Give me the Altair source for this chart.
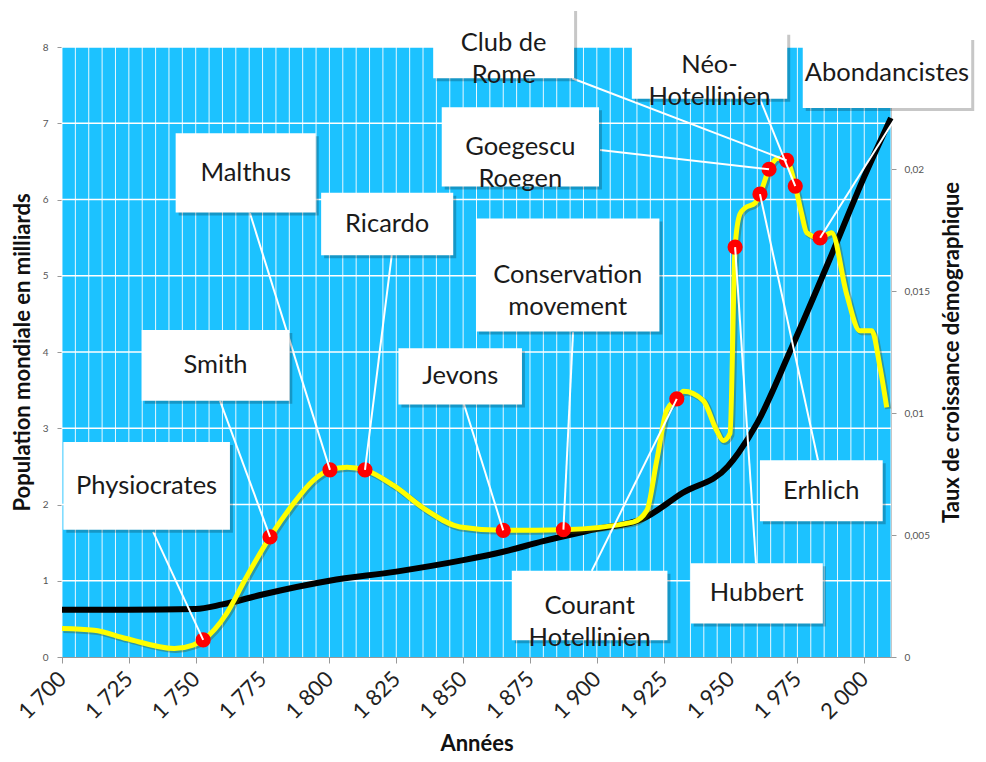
import altair as alt
import pandas as pd

# ---- data ----
pop_years = [1700, 1725, 1750, 1760, 1775, 1800, 1825, 1850, 1865, 1880, 1900, 1917,
             1932, 1949, 1953, 1960, 1972, 1987, 2000, 2010]
pop_values = [0.62, 0.62, 0.63, 0.69, 0.82, 1.00, 1.12, 1.27, 1.38, 1.52, 1.68, 1.81,
              2.15, 2.50, 2.68, 3.07, 3.99, 5.21, 6.30, 7.07]

rate_years = [1700, 1712, 1724, 1742, 1749, 1752.8, 1761.6, 1769, 1777.8, 1786.5, 1794,
              1800.2, 1806.5, 1813.3, 1824, 1836.4, 1848.8, 1865, 1887.5, 1913.5, 1918.7,
              1922.4, 1926.1, 1929.9, 1932.4, 1939.8, 1944.8, 1947.3, 1949.8, 1951.7,
              1953.5, 1955.4, 1959.2, 1961.0, 1964.4, 1967.8, 1971.0, 1974.2, 1976.6,
              1978.5, 1983.5, 1987.8, 1993.4, 1998.4, 2002.8, 2005.9, 2008.4]
rate_values = [0.00117, 0.00110, 0.00076, 0.00035, 0.00049, 0.00070, 0.00179, 0.00328,
               0.00492, 0.00628, 0.00724, 0.00767, 0.00778, 0.00767, 0.00703, 0.00601,
               0.00533, 0.00519, 0.00522, 0.00553, 0.00601, 0.00805, 0.01010, 0.01058,
               0.01089, 0.01051, 0.00928, 0.00887, 0.00916, 0.01680, 0.01815, 0.01840,
               0.01861, 0.01897, 0.01999, 0.02044, 0.02035, 0.01930, 0.01815, 0.01739,
               0.01718, 0.01739, 0.01488, 0.01337, 0.01337, 0.01187, 0.01023]

labels = ["Physiocrates", "Smith", "Malthus", "Ricardo", "Jevons",
          "Conservation\nmovement", "Courant\nHotellinien", "Hubbert", "Erhlich",
          "Goegescu\nRoegen", "Club de\nRome", "Néo-\nHotellinien", "Abondancistes"]
point_year = [1752.8, 1777.8, 1800.2, 1813.3, 1865.0, 1887.5, 1929.9, 1951.7, 1961.0,
              1964.4, 1971.0, 1974.2, 1983.5]
point_rate = [0.00070, 0.00492, 0.00767, 0.00767, 0.00519, 0.00522, 0.01058, 0.01680,
              0.01897, 0.01999, 0.02035, 0.01930, 0.01718]
# label boxes, in (year, billions) units
box_x0 = [1700.5, 1729.8, 1742.5, 1796.9, 1825.8, 1854.8, 1868.2, 1935.1, 1961.0,
          1842.0, 1838.8, 1913.1, 1977.0]
box_x1 = [1762.8, 1785.0, 1794.9, 1846.3, 1872.0, 1923.4, 1926.4, 1984.5, 2006.9,
          1900.8, 1891.5, 1971.2, 2040.0]
box_top = [2.82, 4.29, 6.87, 6.09, 4.05, 5.75, 1.13, 1.23, 2.58, 7.21, 8.51, 8.20, 8.13]
box_bottom = [1.67, 3.36, 5.83, 5.27, 3.31, 4.27, 0.22, 0.44, 1.78, 6.17, 7.59, 7.32, 7.20]
anchor_year = [1734.1, 1759.1, 1770.3, 1823.3, 1850.1, 1891.1, 1898.1, 1959.5, 1982.7,
               1901.2, 1890.7, 1961.0, 2014.0]
anchor_val = [1.64, 3.36, 5.82, 5.27, 3.34, 4.26, 1.13, 1.23, 2.58, 6.65, 7.59, 7.32, 7.20]

x_domain = [1700, 2010]
y_left_domain = [0, 8]
y_right_domain = [0, 0.025]
x_grid_values = list(range(1700, 2011, 5))
left_ticks = list(range(0, 9))
right_ticks = [0, 0.005, 0.01, 0.015, 0.02]

df_pop = pd.DataFrame({"year": pop_years, "pop": pop_values})
df_rate = pd.DataFrame({"year": rate_years, "rate": rate_values})
df_ann = pd.DataFrame({
    "label": labels, "point_year": point_year, "point_rate": point_rate,
    "x0": box_x0, "x1": box_x1, "top": box_top, "bottom": box_bottom,
    "anchor_year": anchor_year, "anchor_val": anchor_val,
})
df_bg = pd.DataFrame({"x0": [x_domain[0]], "x1": [x_domain[1]],
                      "y0": [y_left_domain[0]], "y1": [y_left_domain[1]]})
df_vgrid = pd.DataFrame({"gx": x_grid_values})
df_hgrid = pd.DataFrame({"gy": left_ticks[1:]})

FONT = "Lato"
xscale = alt.Scale(domain=x_domain, nice=False, zero=False)
yl_scale = alt.Scale(domain=y_left_domain, nice=False, zero=True)
yr_scale = alt.Scale(domain=y_right_domain, nice=False, zero=True)

xaxis = alt.Axis(
    values=x_grid_values, grid=False,
    labelExpr="datum.value % 25 === 0 ? replace(format(datum.value, ','), ',', ' ') : ''",
    labelAngle=315, labelAlign="right", labelBaseline="middle", labelOverlap=False,
    labelFontSize=22, labelColor="#222", labelPadding=12, labelFont=FONT,
    tickOpacity={"condition": {"test": "datum.value % 25 === 0", "value": 1}, "value": 0},
    tickColor="#999", tickSize=6, domainColor="#999",
    title="Années", titleFontSize=22, titleFontWeight="bold", titleColor="#111",
    titleFont=FONT, titlePadding=11,
)
yaxis_left = alt.Axis(
    values=left_ticks, grid=False,
    labelFontSize=10, labelColor="#555", labelFont=FONT, labelPadding=9,
    tickColor="#999", tickSize=5, domainColor="#999",
    title="Population mondiale  en milliards", titleFontSize=22, titleFontWeight="bold",
    titleColor="#111", titleFont=FONT, titlePadding=8,
)
yaxis_right = alt.Axis(
    orient="right", values=right_ticks, grid=False,
    labelExpr="replace(format(datum.value, '~g'), '.', ',')",
    labelFontSize=10, labelColor="#555", labelFont=FONT, labelPadding=8,
    tickColor="#999", tickSize=5, domainColor="#999",
    title="Taux de croissance démographique", titleFontSize=22, titleFontWeight="bold",
    titleColor="#111", titleFont=FONT, titleAngle=270, titleBaseline="top",
    titlePadding=12,
)


def X(field):
    return alt.X(f"{field}:Q", scale=xscale, axis=xaxis)


def YL(field):
    return alt.Y(f"{field}:Q", scale=yl_scale, axis=yaxis_left)


# group 1: plot background, grid + population (left axis)
bg = alt.Chart(df_bg).mark_rect(color="#1CC2FF", opacity=1).encode(
    x=X("x0"), x2="x1:Q", y=YL("y0"), y2="y1:Q")
vgrid = alt.Chart(df_vgrid).mark_rule(color="white", strokeWidth=1, opacity=0.9).encode(
    x=X("gx"))
hgrid = alt.Chart(df_hgrid).mark_rule(color="white", strokeWidth=1.5).encode(
    y=YL("gy"))
black = alt.Chart(df_pop).mark_line(
    color="black", strokeWidth=6, interpolate="monotone"
).encode(x=X("year"), y=YL("pop"))
g1 = alt.layer(bg, vgrid, hgrid, black)

# group 2: growth rate (right axis)
yellow_shadow = alt.Chart(df_rate).mark_line(
    color="#4a4a00", opacity=0.35, strokeWidth=6, interpolate="monotone",
    xOffset=1.5, yOffset=1.5,
).encode(x=X("year"), y=alt.Y("rate:Q", scale=yr_scale, axis=yaxis_right))
yellow = alt.Chart(df_rate).mark_line(
    color="#FFFF00", strokeWidth=5, interpolate="monotone"
).encode(x=X("year"), y=alt.Y("rate:Q", scale=yr_scale, axis=yaxis_right))
g2 = alt.layer(yellow_shadow, yellow)

# group 3: annotations (drawn in left-axis units; rate converted to the same frame)
ann = alt.Chart(df_ann).transform_calculate(
    pv=f"datum.point_rate * {y_left_domain[1]} / {y_right_domain[1]}",
    tx="(datum.x0 + datum.x1) / 2",
    ty="(datum.top + datum.bottom) / 2",
)


def Y(field):
    return alt.Y(f"{field}:Q", scale=yl_scale, axis=None)


points = ann.mark_point(filled=True, size=230, color="#FF0000", opacity=1).encode(
    x=X("point_year"), y=Y("pv"))
connectors = ann.mark_rule(color="white", strokeWidth=2).encode(
    x=X("anchor_year"), y=Y("anchor_val"), x2="point_year:Q", y2="pv:Q")
box_shadow = ann.mark_rect(
    color="black", opacity=0.22, xOffset=3, x2Offset=3, yOffset=3, y2Offset=3
).encode(x=X("x0"), x2="x1:Q", y=Y("top"), y2="bottom:Q")
boxes = ann.mark_rect(color="white", opacity=1).encode(
    x=X("x0"), x2="x1:Q", y=Y("top"), y2="bottom:Q")
texts = ann.mark_text(
    font=FONT, fontSize=25.5, color="#1a1a1a", lineBreak="\n", lineHeight=32,
    align="center", baseline="middle",
).encode(x=X("tx"), y=Y("ty"), text="label:N")
g3 = alt.layer(points, connectors, box_shadow, boxes, texts)

chart = alt.layer(g1, g2, g3).resolve_scale(y="independent").properties(
    width=829, height=610,
    padding={"left": 3, "top": 0, "right": 0, "bottom": 0}, background="white"
).configure_view(stroke=None).configure(font=FONT)

chart.save("out.html", embed_options={"renderer": "svg", "actions": False})
